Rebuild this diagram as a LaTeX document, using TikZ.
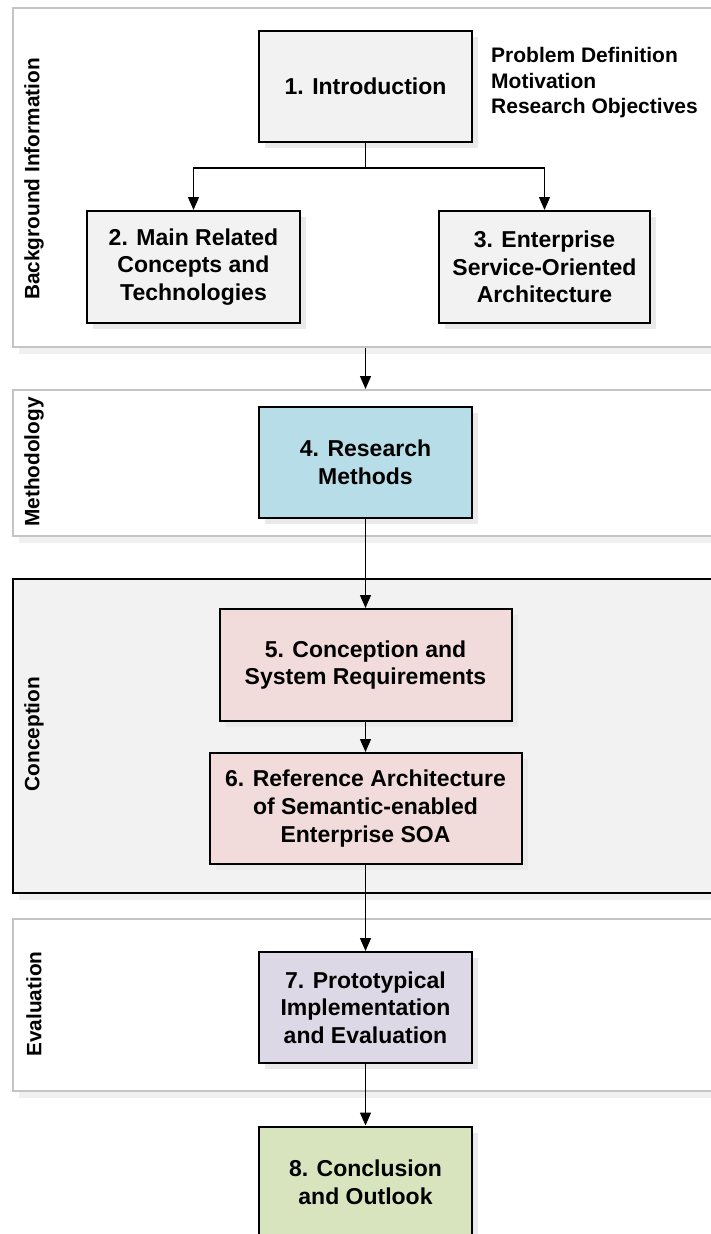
\documentclass[tikz,border=0pt]{standalone}
\usepackage{fontspec}
\setmainfont{Liberation Sans}
\usetikzlibrary{arrows.meta,shadows}

\definecolor{boxgray}{HTML}{F2F2F2}
\definecolor{boxblue}{HTML}{B7DDE8}
\definecolor{boxpink}{HTML}{F2DCDB}
\definecolor{boxlilac}{HTML}{DDD8E6}
\definecolor{boxgreen}{HTML}{D7E4BD}
\definecolor{framegray}{HTML}{C4C4C4}
\definecolor{shadowgray}{HTML}{EAEAEA}
\definecolor{frameshadow}{HTML}{F0F0F0}

\tikzset{
  x=1pt, y=-1pt,
  chapter/.style={draw=black, line width=2pt, align=center, inner sep=0pt,
    minimum width=213pt, minimum height=111pt,
    font=\fontsize{23}{27.7}\selectfont\bfseries,
    drop shadow={shadow xshift=6pt, shadow yshift=-6pt, fill=shadowgray, opacity=1}},
  section frame/.style={draw=framegray, line width=2pt, fill=white, inner sep=0pt,
    minimum width=740pt,
    drop shadow={shadow xshift=6pt, shadow yshift=-7pt, fill=frameshadow, opacity=1}},
  dark frame/.style={section frame, draw=black, fill=boxgray},
  phase label/.style={rotate=90, font=\fontsize{20.8}{24}\selectfont\bfseries, inner sep=0pt},
  conn/.style={draw=black, line width=1.3pt, -{Triangle[length=13pt,width=11pt]}},
  notes/.style={align=left, anchor=west, inner sep=0pt,
    font=\fontsize{21}{25.5}\selectfont\bfseries}
}

\begin{document}
\begin{tikzpicture}
\useasboundingbox (0,0) rectangle (711,1234);
\clip (0,0) rectangle (711,1234);

% phase frames
\node[section frame, anchor=north west, minimum height=339pt] (bg)   at (12,7)   {};
\node[section frame, anchor=north west, minimum height=146pt] (meth) at (12,389) {};
\node[dark frame,    anchor=north west, minimum height=314pt] (conc) at (12,578) {};
\node[section frame, anchor=north west, minimum height=172pt] (eval) at (12,918) {};

% phase labels
\node[phase label] (lbg)   at (34,179)  {Background Information};
\node[phase label] (lmeth) at (34,462)  {Methodology};
\node[phase label] (lconc) at (34,734)  {Conception};
\node[phase label] (leval) at (34,1004) {Evaluation};

% chapters
\node[chapter, fill=boxgray] (n1) at (365.5,86.5) {1. Introduction};
\node[chapter, fill=boxgray, minimum height=112pt] (n2) at (193.5,267) {2. Main Related\\Concepts and\\Technologies};
\node[chapter, fill=boxgray, minimum height=112pt, minimum width=211pt] (n3) at (544.5,267) {3. Enterprise\\Service-Oriented\\Architecture};
\node[chapter, fill=boxblue] (n4) at (365.5,462.5) {4. Research\\Methods};
\node[chapter, fill=boxpink, minimum width=292pt, minimum height=112pt] (n5) at (365.5,665) {5. Conception and\\System Requirements};
\node[chapter, fill=boxpink, minimum width=312pt] (n6) at (365.5,808.5) {6. Reference Architecture\\of Semantic-enabled\\Enterprise SOA};
\node[chapter, fill=boxlilac] (n7) at (365.5,1007.5) {7. Prototypical\\Implementation\\and Evaluation};
\node[chapter, fill=boxgreen] (n8) at (365.5,1182) {8. Conclusion\\and Outlook};

% notes beside the introduction
\node[notes] (topics) at (491,83) {Problem Definition\\Motivation\\Research Objectives};

% connectors
\draw[conn] (n1.south) -- ++(0,25) -| (n2.north);
\draw[conn] (n1.south) -- ++(0,25) -| (n3.north);
\draw[conn] (bg.south -| n1.south) -- (meth.north -| n1.south);
\draw[conn] (n4) -- (n5);
\draw[conn] (n5) -- (n6);
\draw[conn] (n6) -- (n7);
\draw[conn] (n7) -- (n8);
\end{tikzpicture}
\end{document}
